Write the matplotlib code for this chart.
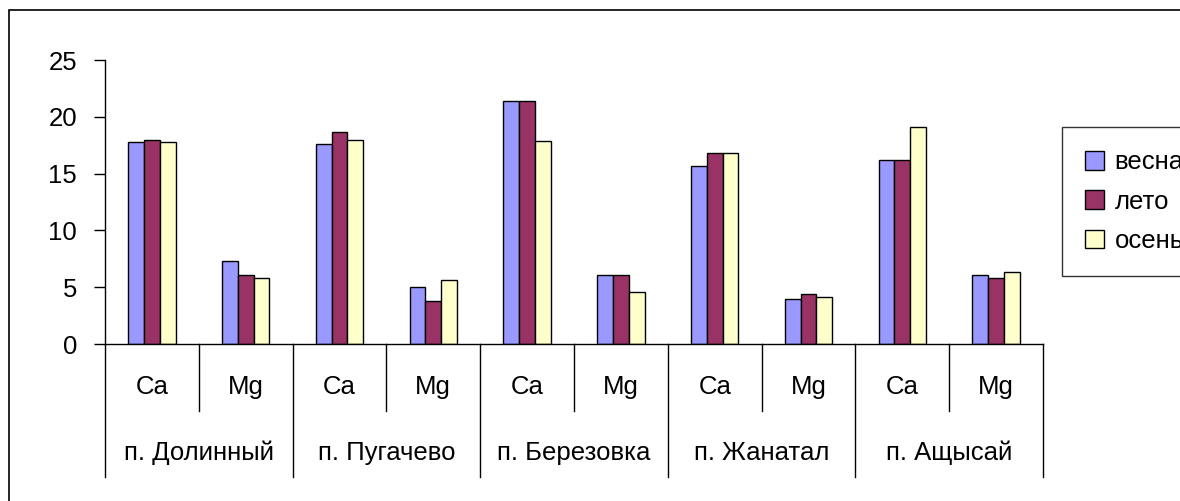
import matplotlib
matplotlib.use("Agg")
import matplotlib.pyplot as plt
import matplotlib.transforms as mtransforms
from matplotlib.patches import Rectangle, Patch
import numpy as np

plt.rcParams['font.family'] = ['Liberation Sans', 'DejaVu Sans']

# ========== данные ==========
places = ["п. Долинный", "п. Пугачево", "п. Березовка", "п. Жанатал", "п. Ащысай"]
elements = ["Ca", "Mg"]
seasons = ["весна", "лето", "осень"]
colors = ["#9999FF", "#993366", "#FFFFCC"]

# значения по порядку: Ca, Mg для каждого поселка
vesna = [17.8, 7.3, 17.6, 5.0, 21.4, 6.05, 15.7, 3.95, 16.2, 6.05]
leto = [18.0, 6.05, 18.65, 3.8, 21.4, 6.05, 16.8, 4.4, 16.2, 5.85]
osen = [17.8, 5.8, 18.0, 5.6, 17.85, 4.6, 16.8, 4.15, 19.1, 6.3]
series = [vesna, leto, osen]

W, H = 1180, 501
FS = 18.5
fig = plt.figure(figsize=(W/100, H/100), dpi=100)
ax = fig.add_axes([105/W, 1-344/H, (1043-105)/W, (344-60)/H])

n = len(vesna)
x = np.arange(n)
bw = 0.168
for i, (vals, c, lab) in enumerate(zip(series, colors, seasons)):
    ax.bar(x + (i-1)*bw, vals, width=bw, color=c, edgecolor="black", linewidth=1, label=lab)

ax.set_xlim(-0.5, n-0.5)
ax.set_ylim(0, 25)
ax.set_yticks([0, 5, 10, 15, 20, 25])
ax.tick_params(axis="y", direction="out", length=8, width=1, pad=12, labelsize=FS)
ax.set_xticks([])
for s in ["top", "right"]:
    ax.spines[s].set_visible(False)
ax.spines["left"].set_linewidth(1)
ax.spines["bottom"].set_linewidth(1)

# подписи категорий и разделители
tr = mtransforms.blended_transform_factory(ax.transData, ax.transAxes)
for k in range(n+1):
    xb = k - 0.5
    ybot = -0.468 if k % 2 == 0 else -0.236
    ax.plot([xb, xb], [0, ybot], color="black", lw=1, transform=tr, clip_on=False)
for k in range(n):
    ax.text(k, -0.151, elements[k % 2], transform=tr, ha="center", va="center", fontsize=FS)
for g, p in enumerate(places):
    ax.text(2*g + 0.5, -0.384, p, transform=tr, ha="center", va="center", fontsize=FS)

# легенда (справа обрезана краем, как в оригинале)
handles = [Patch(facecolor=c, edgecolor="black", label=l) for c, l in zip(colors, seasons)]
leg = fig.legend(handles=handles, loc="upper left", bbox_to_anchor=(1062/W, 1-127/H),
                 fontsize=FS, frameon=True, fancybox=False, edgecolor="black",
                 handlelength=0.75, handleheight=0.75, handletextpad=0.4,
                 labelspacing=0.6, borderpad=0.9, borderaxespad=0)
leg.get_frame().set_linewidth(1)

# рамка диаграммы
fig.patches.append(Rectangle((9/W, -0.2), 2, 1-10/H+0.2, transform=fig.transFigure,
                             fill=False, edgecolor="black", lw=1.2))

plt.savefig("out.png", dpi=100)
plt.close()
